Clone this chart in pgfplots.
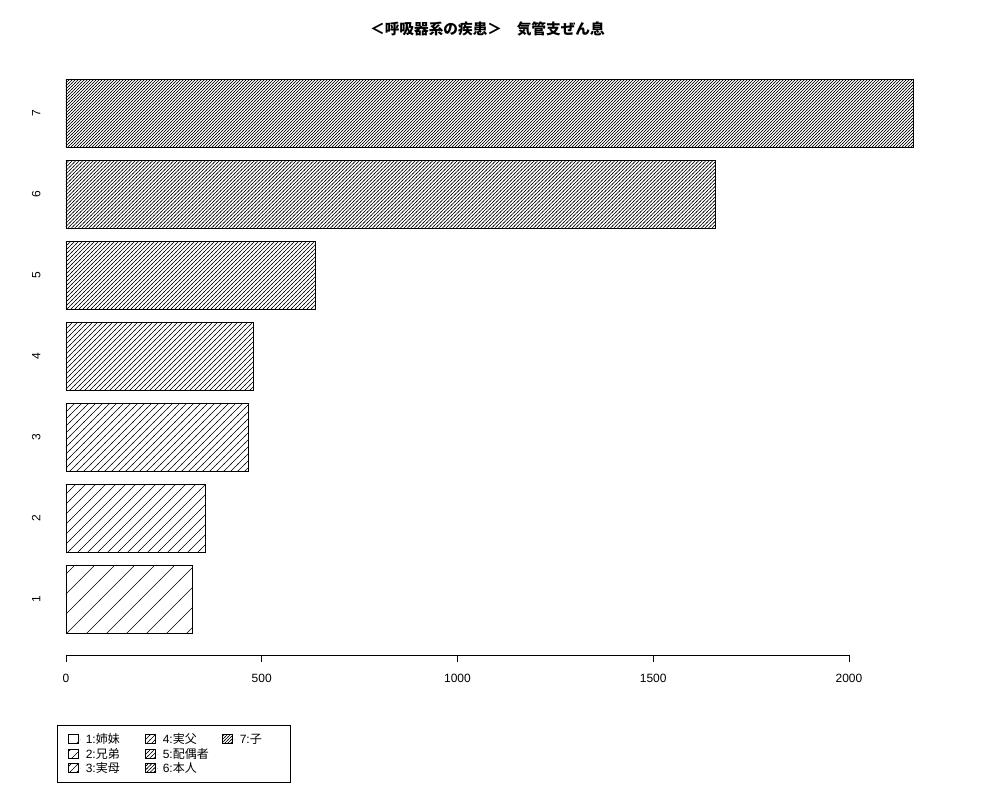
\documentclass[border=0pt]{standalone}
\usepackage{fontspec}
\setmainfont{Liberation Sans}
\newfontfamily\cjk{Noto Sans CJK JP}
\usepackage{pgfplots}
\pgfplotsset{compat=1.18}
\usetikzlibrary{patterns.meta}

% 45 degree hatch on an upright tile; \hatchsize is the horizontal spacing
\pgfdeclarepattern{
  name=rhatch,
  parameters={\hatchsize},
  bottom left={\pgfpoint{-.5pt}{-.5pt}},
  top right={\pgfpoint{\hatchsize+.5pt}{\hatchsize+.5pt}},
  tile size={\pgfpoint{\hatchsize}{\hatchsize}},
  code={
    \pgfsetlinewidth{0.5pt}
    \pgfpathmoveto{\pgfpoint{-.5pt}{-.5pt}}
    \pgfpathlineto{\pgfpoint{\hatchsize+.5pt}{\hatchsize+.5pt}}
    \pgfusepath{stroke}
  }
}
\tikzset{hatch size/.store in=\hatchsize, hatch size=5pt,
  hatch/.style={pattern=rhatch, hatch size=#1, pattern color=black}}
\newcommand\legtext[1]{\makebox[28pt][l]{#1}}

\begin{document}
\begin{tikzpicture}
\useasboundingbox (0,0) rectangle (750pt,600pt);
\node[font=\fontsize{11}{13}\selectfont\cjk\bfseries] at (365.6pt,578.25pt) {＜呼吸器系の疾患＞　気管支ぜん息};
\begin{axis}[
    at={(17.4pt,108.7pt)}, anchor=south west,
    scale only axis,
    width=693pt, height=448.3pt,
    xmin=-109.3, xmax=2250.9,
    ymin=-0.128, ymax=8.728,
    clip=false,
    xbar, bar width=1, bar shift=0pt,
    axis line style={draw=none},
    tick align=outside,
    major tick length=5.25pt,
    xtick={0,500,1000,1500,2000},
    xtick pos=bottom, ytick pos=left,
    xtick style={draw=black, line width=0.6pt},
    ytick style={draw=none},
    ytick={0.7,1.9,3.1,4.3,5.5,6.7,7.9},
    yticklabels={1,2,3,4,5,6,7},
    ticklabel style={font=\fontsize{9}{11}\selectfont},
    xticklabel style={yshift=-5.5pt},
    yticklabel style={rotate=90, anchor=south, yshift=-21.75pt},
    /pgf/number format/assume math mode=true,
    /pgf/number format/1000 sep={},
    legend columns=3,
    legend cell align=left,
    legend image code/.code={\draw[#1, draw=black, line width=0.5pt] (0pt,-3pt) rectangle (7.5pt,3.75pt); \path[draw=none] (0pt,0pt) -- (11pt,0pt);},
    legend style={at={(0.0366,-0.117)}, anchor=north west, draw=black, line width=0.6pt,
        font=\fontsize{9}{10.5}\selectfont, column sep=0pt, row sep=-2.3pt,
        inner xsep=8pt, inner ysep=4.2pt,
        /tikz/every even column/.append style={column sep=14.5pt}},
]
\addplot[forget plot, draw=black, line width=0.6pt, hatch=15pt] coordinates {(324,0.7)};
\addplot[forget plot, draw=black, line width=0.6pt, hatch=7.5pt] coordinates {(357,1.9)};
\addplot[forget plot, draw=black, line width=0.6pt, hatch=5.25pt] coordinates {(465,3.1)};
\addplot[forget plot, draw=black, line width=0.6pt, hatch=3.75pt] coordinates {(478,4.3)};
\addplot[forget plot, draw=black, line width=0.6pt, hatch=3pt] coordinates {(638,5.5)};
\addplot[forget plot, draw=black, line width=0.6pt, hatch=2.625pt] coordinates {(1658,6.7)};
\addplot[forget plot, draw=black, line width=0.6pt, hatch=2.25pt] coordinates {(2164,7.9)};
\draw[line width=0.6pt] (axis cs:0,-0.128) -- (axis cs:2000,-0.128);
\addlegendimage{hatch=15pt}\addlegendentry{\legtext{1:{\cjk 姉妹}}}
\addlegendimage{hatch=3.75pt}\addlegendentry{\legtext{4:{\cjk 実父}}}
\addlegendimage{hatch=2.25pt}\addlegendentry{\legtext{7:{\cjk 子}}}
\addlegendimage{hatch=7.5pt}\addlegendentry{\legtext{2:{\cjk 兄弟}}}
\addlegendimage{hatch=3pt}\addlegendentry{\legtext{5:{\cjk 配偶者}}}
\addlegendimage{empty legend}\addlegendentry{}
\addlegendimage{hatch=5.25pt}\addlegendentry{\legtext{3:{\cjk 実母}}}
\addlegendimage{hatch=2.625pt}\addlegendentry{\legtext{6:{\cjk 本人}}}
\addlegendimage{empty legend}\addlegendentry{}
\end{axis}
\end{tikzpicture}
\end{document}
